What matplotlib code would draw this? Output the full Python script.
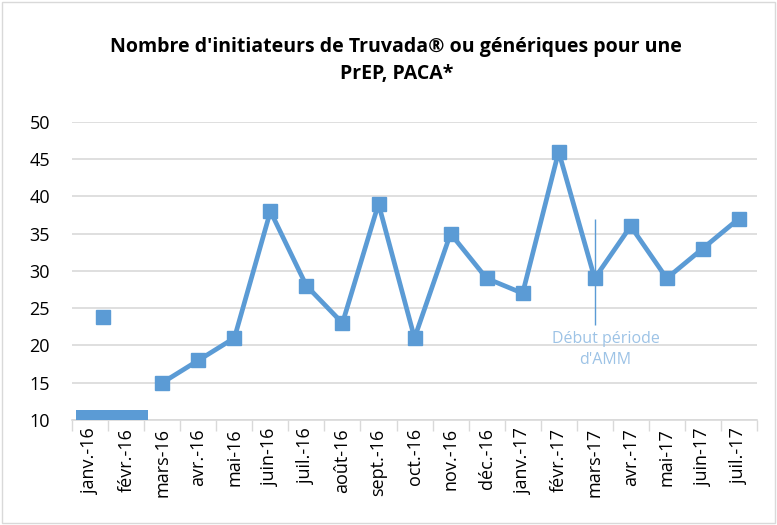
import numpy as np
import matplotlib.pyplot as plt
import matplotlib.patches as mpatches

plt.rcParams["font.family"] = ["Open Sans", "DejaVu Sans"]

mois = ["janv.-16", "févr.-16", "mars-16", "avr.-16", "mai-16", "juin-16",
        "juil.-16", "août-16", "sept.-16", "oct.-16", "nov.-16", "déc.-16",
        "janv.-17", "févr.-17", "mars-17", "avr.-17", "mai-17", "juin-17", "juil.-17"]
initiateurs = [np.nan, np.nan, 15, 18, 21, 38, 28, 23, 39, 21, 35, 29,
               27, 46, 29, 36, 29, 33, 37]
# isolated marker and masked block at the start of the series
point_isole_x, point_isole_y = 0.35, 23.8
bloc_debut = [1.4, 1.4]
amm_debut, amm_fin = 22.8, 37.0

bleu = "#5B9BD5"
x = np.arange(len(mois))

fig = plt.figure(figsize=(7.77, 5.25), dpi=100)
ax = fig.add_axes([0.093, 0.2, 0.881, 0.568])

ax.plot(x, initiateurs, color=bleu, lw=3.4, marker="s", ms=10, zorder=3)
ax.plot([point_isole_x], [point_isole_y], color=bleu, lw=0, marker="s", ms=10, zorder=3)
ax.bar(x[:2] + 0.1, bloc_debut, bottom=10, width=1.0, color=bleu, zorder=3)

ax.vlines(mois.index("mars-17"), amm_debut, amm_fin, color=bleu, lw=1, zorder=4)
ax.text(mois.index("mars-17") + 0.3, 22.0, "Début période\nd'AMM", color="#9DC3E6",
        ha="center", va="top", fontsize=11.5, linespacing=1.45)

ax.set_ylim(10, 50)
ax.set_yticks(range(10, 51, 5))
ax.set_xlim(-0.5, len(mois) - 0.5)
ax.set_xticks(x)
ax.set_xticklabels(mois, rotation=90, fontsize=13)
ax.set_xticks(np.arange(-0.5, len(mois)), minor=True)
ax.tick_params(axis="x", which="major", length=0, pad=6)
ax.tick_params(axis="x", which="minor", length=8, color="#D9D9D9", width=1)
ax.tick_params(axis="y", length=0, labelsize=13, pad=16)
ax.grid(axis="y", color="#D9D9D9", lw=1.2, zorder=0)
for s in ["top", "right", "left"]:
    ax.spines[s].set_visible(False)
ax.spines["bottom"].set_color("#D9D9D9")
ax.spines["bottom"].set_linewidth(1.2)

fig.suptitle("Nombre d'initiateurs de Truvada® ou génériques pour une\nPrEP, PACA*",
             x=0.51, y=0.93, fontsize=14, fontweight="bold", linespacing=1.5)

fig.patches.append(mpatches.Rectangle((0.003, 0.003), 0.994, 0.994, transform=fig.transFigure,
                                      fill=False, edgecolor="#D9D9D9", lw=1))

fig.savefig("out.png", dpi=100)
